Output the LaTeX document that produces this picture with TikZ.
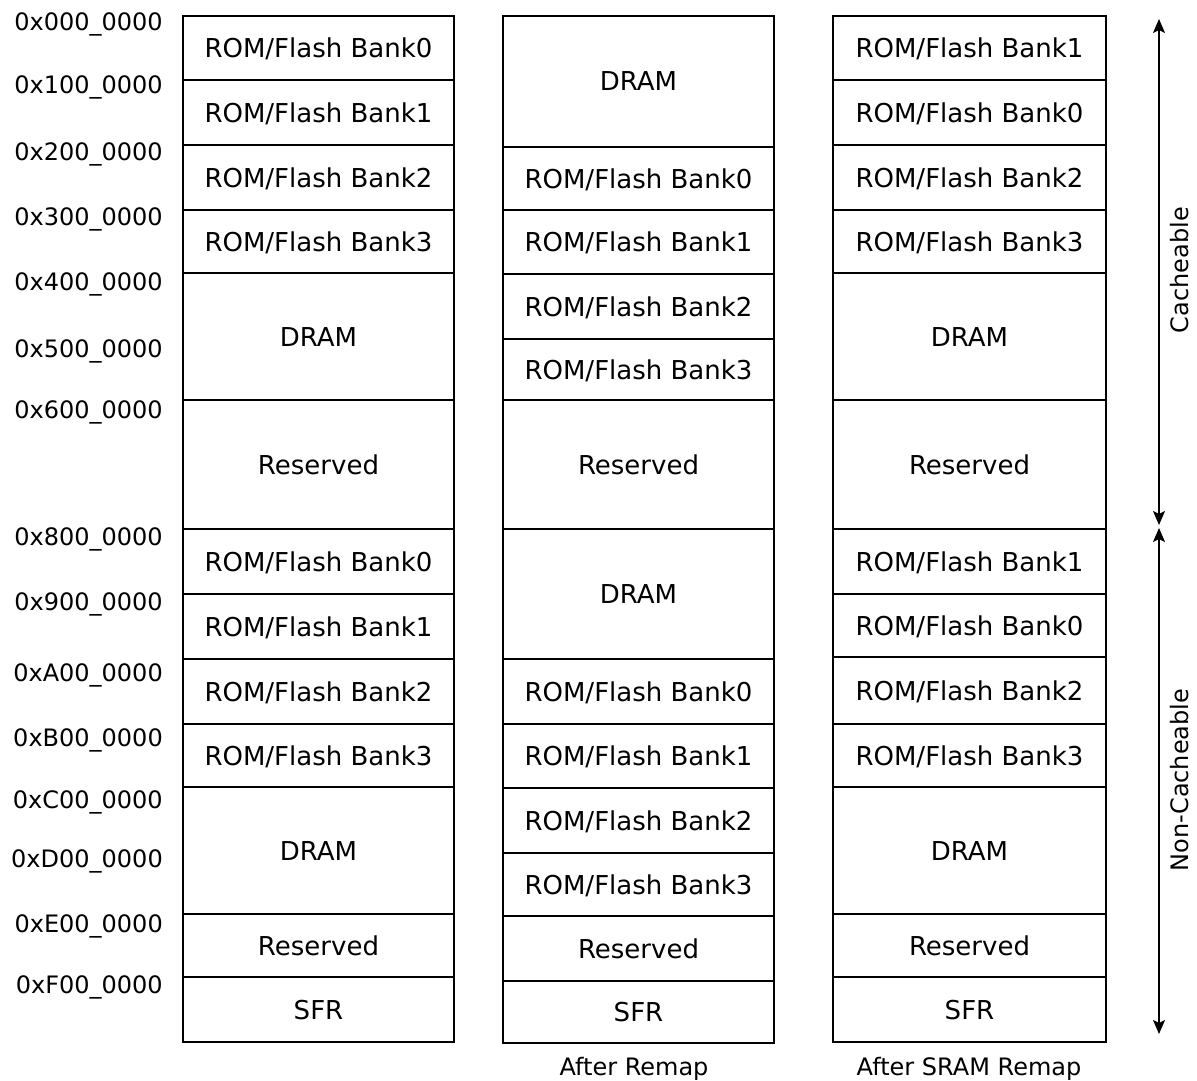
\documentclass[tikz,border=0pt]{standalone}
\usepackage{fontspec}
\setmainfont{DejaVu Sans}
\usetikzlibrary{arrows.meta}
\newcommand\mblk[6]{\node[blk, minimum width={(#3-#2)*1pt}, minimum height={(#5-#4)*1pt}] (#1) at ({(#2+#3)/2},{(#4+#5)/2}) {#6};}
\begin{document}
\begin{tikzpicture}[x=1pt,y=-1pt,
  blk/.style={draw, line width=1.3pt, inner sep=0pt, outer sep=0pt, font=\fontsize{26}{30}\selectfont, text height=19pt, text depth=0pt},
  addr/.style={anchor=base east, inner sep=0pt, font=\fontsize{24}{28}\selectfont},
  captext/.style={anchor=base, inner sep=0pt, font=\fontsize{24}{28}\selectfont},
  side/.style={rotate=90, inner sep=0pt, font=\fontsize{24}{28}\selectfont, text height=17.5pt, text depth=0pt},
  tipx/.tip={Stealth[length=14pt,width=12pt,inset=3pt]},
  rng/.style={line width=1.3pt, tipx-tipx}]
\useasboundingbox (0,0) rectangle (1197,1081);
% column 1
\mblk{a1}{183}{454}{16}{80}{ROM/Flash Bank0}
\mblk{a2}{183}{454}{80}{145}{ROM/Flash Bank1}
\mblk{a3}{183}{454}{145}{210}{ROM/Flash Bank2}
\mblk{a4}{183}{454}{210}{273}{ROM/Flash Bank3}
\mblk{a5}{183}{454}{273}{400}{DRAM}
\mblk{a6}{183}{454}{400}{529}{Reserved}
\mblk{a7}{183}{454}{529}{594}{ROM/Flash Bank0}
\mblk{a8}{183}{454}{594}{659}{ROM/Flash Bank1}
\mblk{a9}{183}{454}{659}{724}{ROM/Flash Bank2}
\mblk{a10}{183}{454}{724}{787}{ROM/Flash Bank3}
\mblk{a11}{183}{454}{787}{914}{DRAM}
\mblk{a12}{183}{454}{914}{977}{Reserved}
\mblk{a13}{183}{454}{977}{1042}{SFR}
% column 2
\mblk{b1}{503}{774}{16}{147}{DRAM}
\mblk{b2}{503}{774}{147}{210}{ROM/Flash Bank0}
\mblk{b3}{503}{774}{210}{274}{ROM/Flash Bank1}
\mblk{b4}{503}{774}{274}{339}{ROM/Flash Bank2}
\mblk{b5}{503}{774}{339}{400}{ROM/Flash Bank3}
\mblk{b6}{503}{774}{400}{529}{Reserved}
\mblk{b7}{503}{774}{529}{659}{DRAM}
\mblk{b8}{503}{774}{659}{724}{ROM/Flash Bank0}
\mblk{b9}{503}{774}{724}{788}{ROM/Flash Bank1}
\mblk{b10}{503}{774}{788}{853}{ROM/Flash Bank2}
\mblk{b11}{503}{774}{853}{916}{ROM/Flash Bank3}
\mblk{b12}{503}{774}{916}{981}{Reserved}
\mblk{b13}{503}{774}{981}{1043}{SFR}
% column 3
\mblk{c1}{833}{1106}{16}{80}{ROM/Flash Bank1}
\mblk{c2}{833}{1106}{80}{145}{ROM/Flash Bank0}
\mblk{c3}{833}{1106}{145}{210}{ROM/Flash Bank2}
\mblk{c4}{833}{1106}{210}{273}{ROM/Flash Bank3}
\mblk{c5}{833}{1106}{273}{400}{DRAM}
\mblk{c6}{833}{1106}{400}{529}{Reserved}
\mblk{c7}{833}{1106}{529}{594}{ROM/Flash Bank1}
\mblk{c8}{833}{1106}{594}{657}{ROM/Flash Bank0}
\mblk{c9}{833}{1106}{657}{724}{ROM/Flash Bank2}
\mblk{c10}{833}{1106}{724}{787}{ROM/Flash Bank3}
\mblk{c11}{833}{1106}{787}{914}{DRAM}
\mblk{c12}{833}{1106}{914}{977}{Reserved}
\mblk{c13}{833}{1106}{977}{1042}{SFR}
% addresses
\node[addr] (ad0) at (163,31) {0x000\_0000};
\node[addr] (ad1) at (163,93) {0x100\_0000};
\node[addr] (ad2) at (163,160) {0x200\_0000};
\node[addr] (ad3) at (163,225) {0x300\_0000};
\node[addr] (ad4) at (163,290) {0x400\_0000};
\node[addr] (ad5) at (163,357) {0x500\_0000};
\node[addr] (ad6) at (163,418) {0x600\_0000};
\node[addr] (ad8) at (163,545) {0x800\_0000};
\node[addr] (ad9) at (163,610) {0x900\_0000};
\node[addr] (adA) at (163,681) {0xA00\_0000};
\node[addr] (adB) at (163,746) {0xB00\_0000};
\node[addr] (adC) at (163,808) {0xC00\_0000};
\node[addr] (adD) at (163,867) {0xD00\_0000};
\node[addr] (adE) at (163,932) {0xE00\_0000};
\node[addr] (adF) at (163,993) {0xF00\_0000};
% captions
\node[captext] (cap2) at (634,1075) {After Remap};
\node[captext] (cap3) at (969,1075) {After SRAM Remap};
% range arrows
\coordinate (ct) at (1159,19);
\coordinate (cb) at (1159,525);
\coordinate (nt) at (1159,528);
\coordinate (nb) at (1159,1034);
\draw[rng] (ct) -- (cb);
\draw[rng] (nt) -- (nb);
\node[side] (lc) at (1180,270) {Cacheable};
\node[side] (ln) at (1180,780) {Non-Cacheable};
\end{tikzpicture}
\end{document}
